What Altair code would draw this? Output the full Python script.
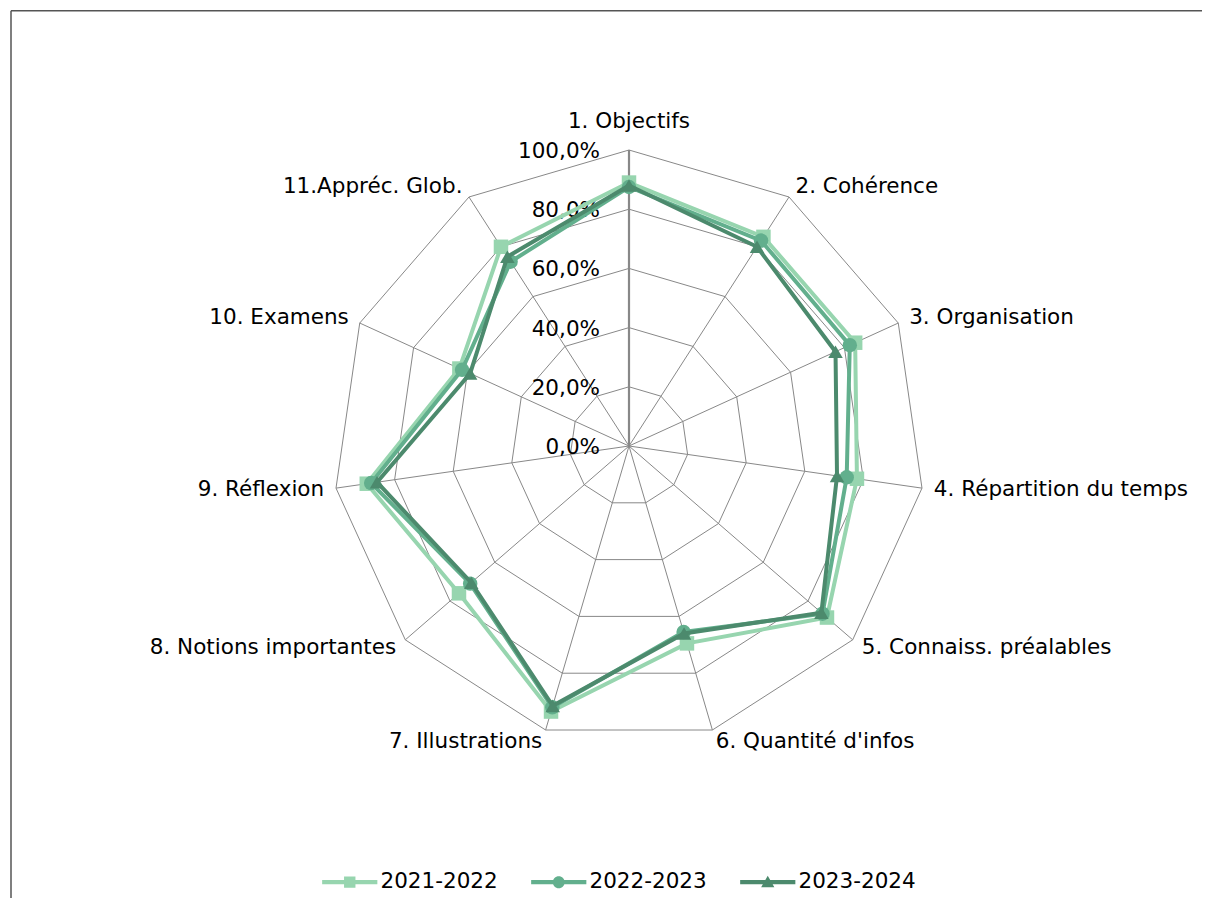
import altair as alt
import pandas as pd

# ---------------- data ----------------
categories = [
    "1. Objectifs", "2. Cohérence", "3. Organisation", "4. Répartition du temps",
    "5. Connaiss. préalables", "6. Quantité d'infos", "7. Illustrations",
    "8. Notions importantes", "9. Réflexion", "10. Examens", "11.Appréc. Glob.",
]
series_names = ["2021-2022", "2022-2023", "2023-2024"]
v2122 = [89.0, 84.0, 84.0, 77.8, 88.5, 69.5, 93.5, 76.0, 89.5, 63.0, 80.0]
v2223 = [87.5, 82.5, 82.0, 74.3, 86.5, 65.5, 92.0, 71.0, 88.0, 62.0, 74.0]
v2324 = [88.0, 80.0, 76.7, 71.0, 86.0, 66.0, 91.5, 70.5, 86.0, 59.0, 76.0]
tick_values = [0, 20, 40, 60, 80, 100]
tick_labels = ["0,0%", "20,0%", "40,0%", "60,0%", "80,0%", "100,0%"]
colors = ["#97d5af", "#62af8d", "#4c8a6d"]
shapes = ["square", "circle", "triangle-up"]

# legend symbols: line segment + marker (unit = sqrt(size)/2 px)
legend_paths = [
    "M-4.6,-0.35H4.6V0.35H-4.6Z M-0.95,-0.95H0.95V0.95H-0.95Z",
    "M-4.6,-0.35H4.6V0.35H-4.6Z M1,0A1,1 0 1,1 -1,0A1,1 0 1,1 1,0Z",
    "M-4.6,-0.35H4.6V0.35H-4.6Z M0,-1.05L1.1,0.85L-1.1,0.85Z",
]

N = len(categories)
FONT = "DejaVu Sans"
FS = 21.5

# ---------------- layout ----------------
W, H = 1194, 890
CX, CY = 621, 438          # centre of the radar in svg pixels
PX = 2.96                  # pixels per percentage point
XDOM = [-CX / PX, (W - CX) / PX]
YDOM = [-(H - CY) / PX, CY / PX]
GRID = "#888888"
FRAME = "#555555"

rows = []
for name, vals in zip(series_names, [v2122, v2223, v2324]):
    for i in range(N + 1):
        rows.append({"series": name, "idx": i, "value": vals[i % N]})
df = pd.DataFrame(rows)

ring_df = pd.DataFrame([{"level": lv, "idx": i, "value": lv}
                        for lv in tick_values[1:] for i in range(N + 1)])
spoke_df = pd.DataFrame({"idx": list(range(N)), "value": [100] * N})
tick_df = pd.DataFrame({"value": tick_values, "label": tick_labels})
cat_df = pd.DataFrame({"idx": list(range(N)), "cat": categories})
one_df = pd.DataFrame({"k": [0]})


def xy(chart, rfield="value"):
    return chart.transform_calculate(
        theta=f"datum.idx * 2 * PI / {N}"
    ).transform_calculate(
        px=f"datum.{rfield} * sin(datum.theta)",
        py=f"datum.{rfield} * cos(datum.theta)",
    )


X = lambda f="px": alt.X(f"{f}:Q", scale=alt.Scale(domain=XDOM, nice=False, zero=False), axis=None)
Y = lambda f="py": alt.Y(f"{f}:Q", scale=alt.Scale(domain=YDOM, nice=False, zero=False), axis=None)

rings = xy(alt.Chart(ring_df)).mark_line(color=GRID, strokeWidth=1).encode(
    x=X(), y=Y(), detail="level:N", order="idx:Q"
)

spokes = xy(alt.Chart(spoke_df)).transform_calculate(zero="0").mark_rule(color=GRID).encode(
    x=X(), y=Y(), x2="zero:Q", y2="zero:Q",
    strokeWidth=alt.condition("datum.idx == 0", alt.value(2.2), alt.value(1)),
)

ticks = alt.Chart(tick_df).transform_calculate(zero="0").mark_text(
    align="right", baseline="middle", dx=-29, dy=2, font=FONT, fontSize=FS, color="black"
).encode(x=X("zero"), y=Y("value"), text="label:N")

cat_base = alt.Chart(cat_df).transform_calculate(
    lr=f"datum.idx == 0 ? 100 + 28 / {PX} : 100 + 12 / {PX}"
)
cat_top = xy(cat_base.transform_filter("datum.idx == 0"), "lr").mark_text(
    align="center", baseline="middle", font=FONT, fontSize=FS, color="black"
).encode(x=X(), y=Y(), text="cat:N")
cat_right = xy(cat_base.transform_filter("datum.idx > 0 && datum.idx <= 5"), "lr").mark_text(
    align="left", baseline="middle", font=FONT, fontSize=FS, color="black"
).encode(x=X(), y=Y(), text="cat:N")
cat_left = xy(cat_base.transform_filter("datum.idx > 5"), "lr").mark_text(
    align="right", baseline="middle", font=FONT, fontSize=FS, color="black"
).encode(x=X(), y=Y(), text="cat:N")

series_layers = []
for name, col, shp in zip(series_names, colors, shapes):
    base = xy(alt.Chart(df).transform_filter(alt.datum.series == name))
    series_layers.append(
        base.mark_line(color=col, strokeWidth=4).encode(x=X(), y=Y(), order="idx:Q")
    )
    series_layers.append(
        base.transform_filter(f"datum.idx < {N}").mark_point(
            shape=shp, filled=True, size=210, color=col, opacity=1
        ).encode(x=X(), y=Y())
    )

leg = dict(
    orient="none", legendX=331, legendY=863, direction="horizontal", title=None,
    symbolSize=144, symbolStrokeWidth=0, labelFont=FONT, labelFontSize=FS,
    labelColor="black", labelOffset=20, columnPadding=33, padding=0,
)
legend_layer = alt.Chart(df).transform_filter("false").transform_calculate(
    px="0", py="0"
).mark_point(filled=True, opacity=1).encode(
    x=X(), y=Y(),
    color=alt.Color("series:N", scale=alt.Scale(domain=series_names, range=colors),
                    legend=alt.Legend(**leg)),
    shape=alt.Shape("series:N", scale=alt.Scale(domain=series_names, range=legend_paths),
                    legend=alt.Legend(**leg)),
)

frame_left = alt.Chart(one_df).mark_rule(color=FRAME, strokeWidth=1.5).encode(
    x=alt.value(3), y=alt.value(2.7), y2=alt.value(H + 20)
)
frame_top = alt.Chart(one_df).mark_rule(color=FRAME, strokeWidth=1.5).encode(
    x=alt.value(3), x2=alt.value(W + 20), y=alt.value(2.7)
)

chart = alt.layer(
    frame_left, frame_top, rings, spokes, ticks, cat_top, cat_right, cat_left,
    *series_layers, legend_layer
).properties(
    width=W, height=H, padding=0,
    autosize=alt.AutoSizeParams(type="none"),
).configure_view(stroke="transparent", strokeWidth=0)

chart.save("out.html", embed_options={"renderer": "svg", "actions": False})
